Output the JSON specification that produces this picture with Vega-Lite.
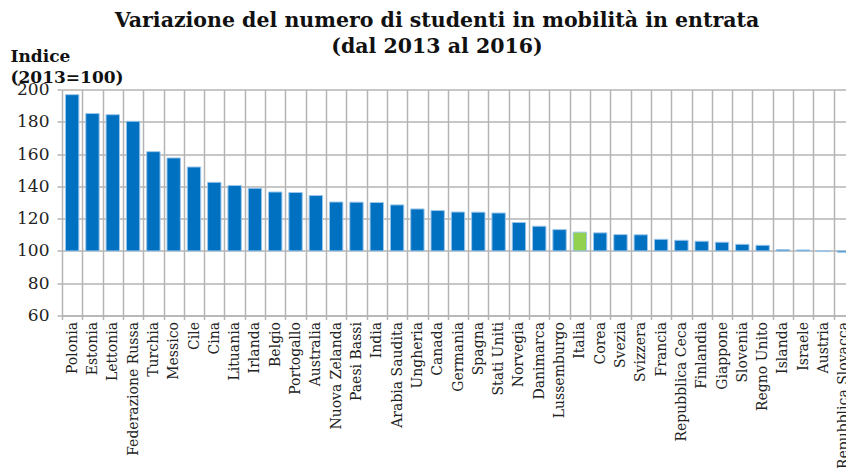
{
  "$schema": "https://vega.github.io/schema/vega-lite/v6.json",
  "width": 784,
  "height": 226,
  "autosize": {"type": "none"},
  "padding": {"left": 62, "top": 89.5, "right": 0, "bottom": 152.5},
  "background": "white",
  "title": {
    "text": ["Variazione del numero di studenti in mobilità in entrata", "(dal 2013 al 2016)"],
    "font": "DejaVu Serif",
    "fontSize": 20.5,
    "fontWeight": "bold",
    "color": "#111111",
    "anchor": "middle",
    "frame": "group",
    "dx": -17,
    "dy": 14,
    "lineHeight": 26
  },
  "data": {
    "values": [
      {"paese": "Polonia", "indice": 196.8},
      {"paese": "Estonia", "indice": 185.1},
      {"paese": "Lettonia", "indice": 184.4},
      {"paese": "Federazione Russa", "indice": 180.3},
      {"paese": "Turchia", "indice": 161.5},
      {"paese": "Messico", "indice": 157.6},
      {"paese": "Cile", "indice": 152.0},
      {"paese": "Cina", "indice": 142.5},
      {"paese": "Lituania", "indice": 140.5},
      {"paese": "Irlanda", "indice": 138.8},
      {"paese": "Belgio", "indice": 136.5},
      {"paese": "Portogallo", "indice": 136.2},
      {"paese": "Australia", "indice": 134.3},
      {"paese": "Nuova Zelanda", "indice": 130.3},
      {"paese": "Paesi Bassi", "indice": 130.2},
      {"paese": "India", "indice": 130.0},
      {"paese": "Arabia Saudita", "indice": 128.5},
      {"paese": "Ungheria", "indice": 126.0},
      {"paese": "Canada", "indice": 125.0},
      {"paese": "Germania", "indice": 124.1},
      {"paese": "Spagna", "indice": 124.0},
      {"paese": "Stati Uniti", "indice": 123.5},
      {"paese": "Norvegia", "indice": 117.6},
      {"paese": "Danimarca", "indice": 115.3},
      {"paese": "Lussemburgo", "indice": 113.2},
      {"paese": "Italia", "indice": 111.6},
      {"paese": "Corea", "indice": 111.2},
      {"paese": "Svezia", "indice": 110.1},
      {"paese": "Svizzera", "indice": 110.0},
      {"paese": "Francia", "indice": 107.2},
      {"paese": "Repubblica Ceca", "indice": 106.6},
      {"paese": "Finlandia", "indice": 106.0},
      {"paese": "Giappone", "indice": 105.4},
      {"paese": "Slovenia", "indice": 104.1},
      {"paese": "Regno Unito", "indice": 103.5},
      {"paese": "Islanda", "indice": 100.8},
      {"paese": "Israele", "indice": 100.6},
      {"paese": "Austria", "indice": 99.6},
      {"paese": "Repubblica Slovacca", "indice": 99.2}
    ]
  },
  "mark": {"type": "bar", "width": {"band": 0.66}, "stroke": "#9cc6ea", "strokeWidth": 1},
  "encoding": {
    "x": {
      "field": "paese",
      "type": "nominal",
      "sort": null,
      "scale": {"range": [0, 792], "paddingInner": 0, "paddingOuter": 0},
      "axis": {
        "title": null,
        "labelAngle": -90,
        "labelFont": "DejaVu Serif",
        "labelFontSize": 14,
        "labelColor": "#222222",
        "labelPadding": 2,
        "labelOverlap": false,
        "tickBand": "extent",
        "grid": true,
        "gridColor": "#b4b4b4",
        "gridWidth": 1.5,
        "ticks": true,
        "tickSize": 4,
        "tickColor": "#b4b4b4",
        "tickWidth": 1.5,
        "domainColor": "#b4b4b4",
        "domainWidth": 1.5
      }
    },
    "y": {
      "field": "indice",
      "type": "quantitative",
      "scale": {"domain": [60, 200], "nice": false, "zero": false},
      "axis": {
        "values": [60, 80, 100, 120, 140, 160, 180, 200],
        "title": ["Indice", "(2013=100)"],
        "titleAngle": 0,
        "titleAlign": "left",
        "titleBaseline": "alphabetic",
        "titleX": -52,
        "titleY": -28,
        "titleFont": "DejaVu Serif",
        "titleFontSize": 17,
        "titleFontWeight": "bold",
        "titleColor": "#111111",
        "titleLineHeight": 21,
        "labelFont": "DejaVu Serif",
        "labelFontSize": 17,
        "labelColor": "#222222",
        "labelPadding": 8,
        "tickSize": 5,
        "tickColor": "#b4b4b4",
        "tickWidth": 1.5,
        "domain": false,
        "grid": true,
        "gridColor": "#b4b4b4",
        "gridWidth": 1.5
      }
    },
    "y2": {"datum": 100},
    "color": {
      "condition": {"test": "datum.paese === 'Italia'", "value": "#92D050"},
      "value": "#0070C0"
    }
  },
  "config": {"view": {"stroke": null}}
}
